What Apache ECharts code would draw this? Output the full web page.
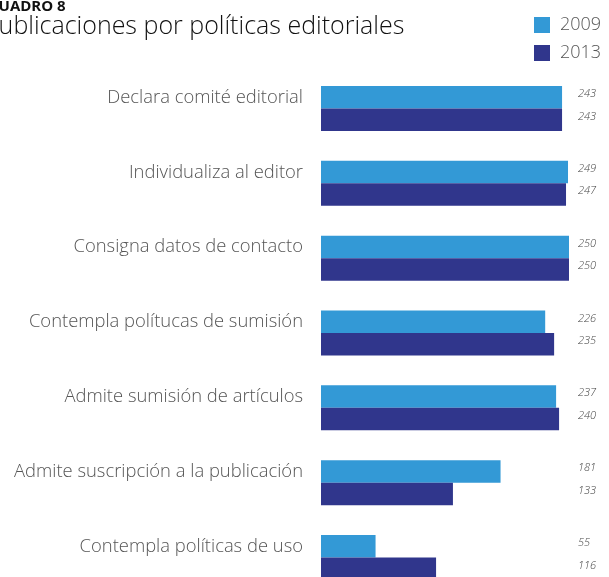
<!DOCTYPE html>
<html>
<head>
<meta charset="utf-8">
<script src="https://cdn.jsdelivr.net/npm/echarts@6/dist/echarts.min.js"></script>
<style>html,body{margin:0;padding:0;background:#fff}#c{width:609px;height:577px}</style>
</head>
<body>
<div id="c"></div>
<script>
const categories = [
  "Declara comité editorial",
  "Individualiza al editor",
  "Consigna datos de contacto",
  "Contempla polítucas de sumisión",
  "Admite sumisión de artículos",
  "Admite suscripción a la publicación",
  "Contempla políticas de uso"
];
const values2009 = [243, 249, 250, 226, 237, 181, 55];
const values2013 = [243, 247, 250, 235, 240, 133, 116];
const seriesNames = ["2009", "2013"];
const titleSmall = "CUADRO 8";
const titleMain = "Publicaciones por políticas editoriales";

const FONT = "'Open Sans'";
const chart = echarts.init(document.getElementById('c'), null, {renderer: 'canvas'});
const labelCfg = {
  show: true,
  position: [257, 8],
  verticalAlign: 'middle',
  align: 'left',
  fontFamily: FONT,
  fontStyle: 'italic',
  fontWeight: 300,
  fontSize: 11,
  color: '#444'
};
chart.setOption({
  animation: false,
  backgroundColor: '#fff',
  graphic: [
    {type: 'text', left: -11, top: -1, style: {text: titleSmall, font: 'bold 15px ' + FONT, fill: '#111'}},
    {type: 'text', left: -16, top: 14, style: {text: titleMain, font: '300 25px ' + FONT, fill: '#111'}}
  ],
  legend: {
    orient: 'vertical',
    left: 529,
    top: 11,
    itemWidth: 16,
    itemHeight: 16,
    itemGap: 10,
    icon: 'rect',
    textStyle: {fontFamily: FONT, fontWeight: 300, fontSize: 18, color: '#555', padding: [0, 0, 0, 5]},
    data: seriesNames
  },
  grid: {left: 321, top: 108.5, width: 248, height: 449, containLabel: false},
  xAxis: {type: 'value', min: 0, max: 250, show: false},
  yAxis: {
    type: 'category',
    inverse: true,
    boundaryGap: false,
    data: categories,
    axisLine: {show: false},
    axisTick: {show: false},
    axisLabel: {
      margin: 18,
      fontFamily: FONT,
      fontWeight: 300,
      fontSize: 18.4,
      color: '#555',
      verticalAlign: 'bottom',
      lineHeight: 22
    }
  },
  series: [
    {name: seriesNames[0], type: 'bar', data: values2009, barWidth: 22.5, barGap: '0%',
     itemStyle: {color: '#3399D6'}, label: labelCfg},
    {name: seriesNames[1], type: 'bar', data: values2013, barWidth: 22.5, barGap: '0%',
     itemStyle: {color: '#30368C'}, label: labelCfg}
  ]
});
</script>
</body>
</html>
